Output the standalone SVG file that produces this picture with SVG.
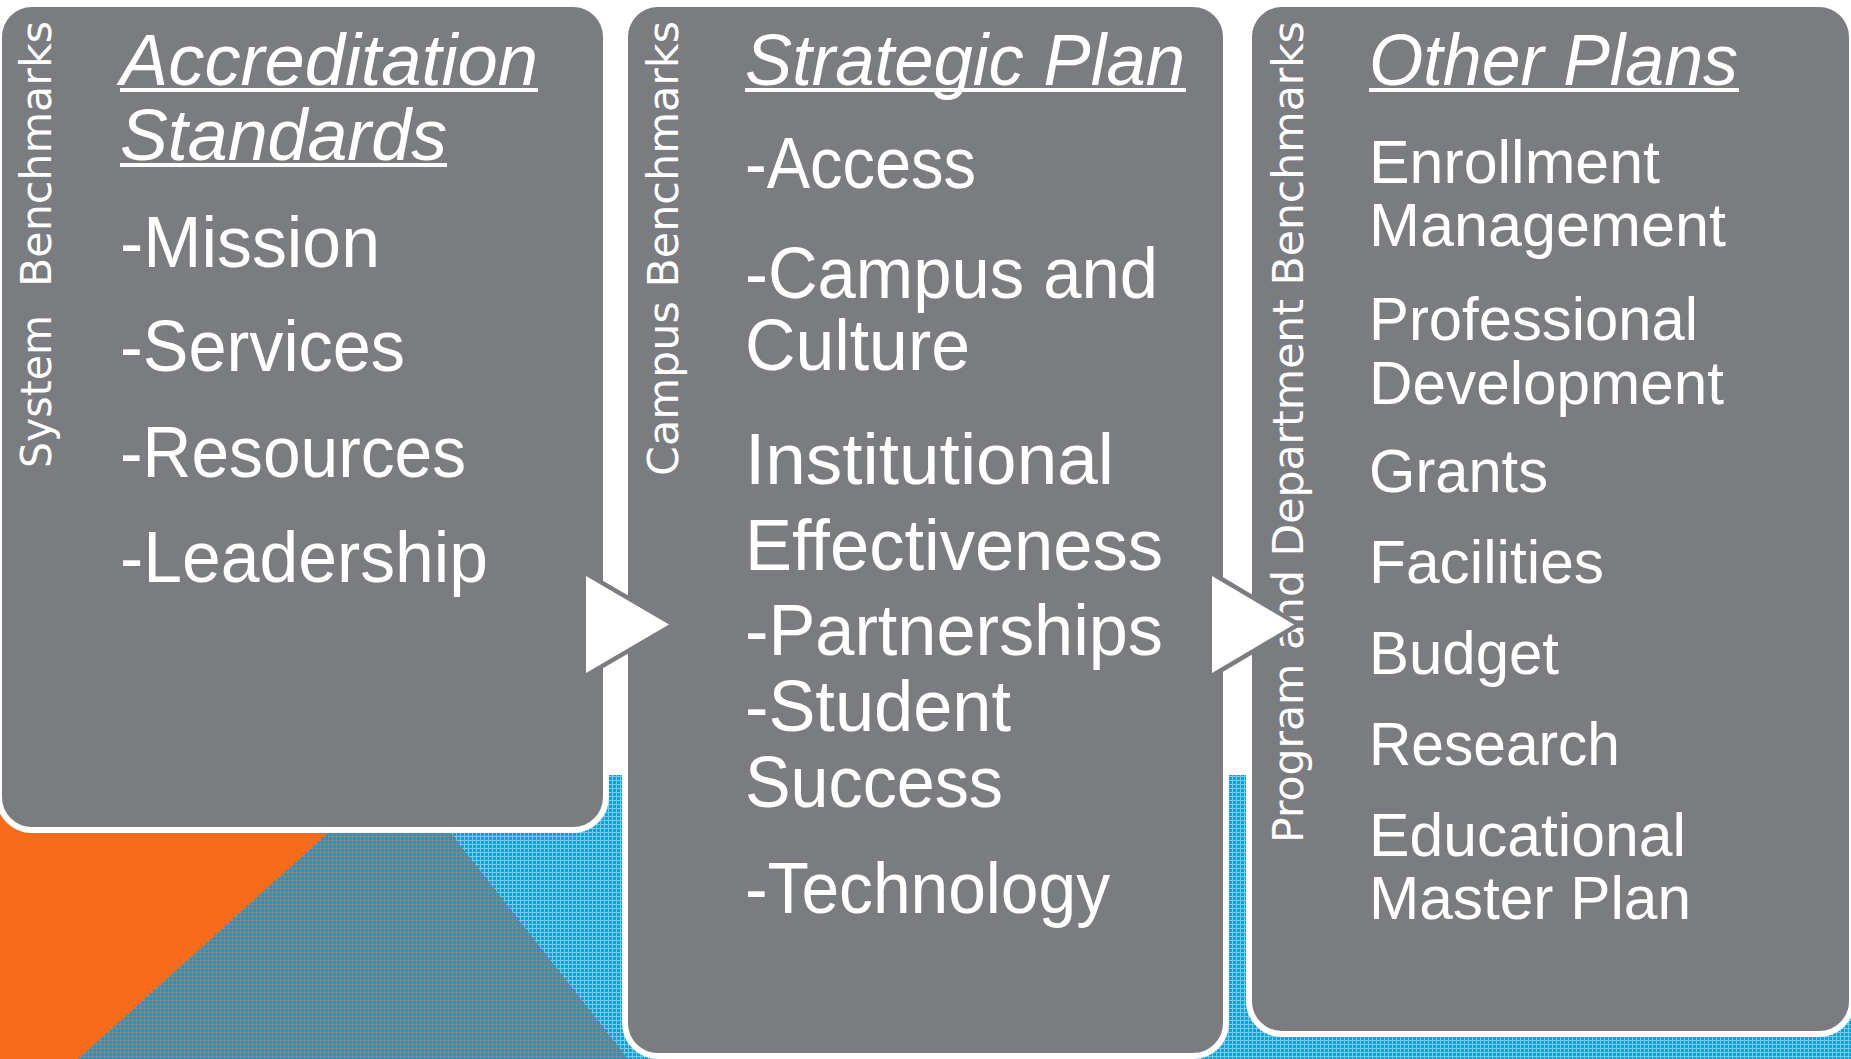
<svg xmlns="http://www.w3.org/2000/svg" width="1851" height="1059" viewBox="0 0 1851 1059">
<defs>
<pattern id="pLight" width="4" height="4" patternUnits="userSpaceOnUse"><rect width="4" height="4" fill="#12a0dc"/><path d="M0 0.5H4M0.5 0V4" stroke="#74ccef" stroke-width="1"/></pattern>
<pattern id="pDark" width="4" height="4" patternUnits="userSpaceOnUse"><rect width="4" height="4" fill="#1799cf"/><path d="M0 0.5H4M0.5 0V4" stroke="#808891" stroke-width="1"/></pattern>
</defs>
<style>
.box{fill:#7b7c80;stroke:#ffffff;stroke-width:6}
.t{font-family:"Liberation Sans Narrow","Liberation Sans",Arial,sans-serif;fill:#ffffff;font-size:72px}
.s{font-size:62px}
.h{font-style:italic}
.v{font-family:"DejaVu Sans","Verdana",sans-serif;fill:#ffffff;font-size:42.5px}
.ul{stroke:#ffffff;stroke-width:4}
.arrow{fill:#ffffff;stroke:#7b7c80;stroke-width:9;stroke-linejoin:miter;paint-order:stroke}
</style>
<rect width="1851" height="1059" fill="#ffffff"/>
<g id="background">
<rect x="0" y="775" width="1851" height="284" fill="url(#pLight)"/>
<polygon points="392,775 405,775 628,1059 78,1059" fill="url(#pDark)"/>
<polygon points="0,775 392,775 78,1059 0,1059" fill="#f76b1c"/>
</g>
<g id="node-accreditation">
<rect class="box" x="-1" y="4" width="607" height="826" rx="33"/>
<text class="v" transform="translate(51,468) rotate(-90)"><tspan x="0" y="0" textLength="153" lengthAdjust="spacingAndGlyphs">System</tspan></text>
<text class="v" transform="translate(51,287) rotate(-90)" textLength="266" lengthAdjust="spacingAndGlyphs">Benchmarks</text>
<text class="t h" x="120" y="85" textLength="418" lengthAdjust="spacingAndGlyphs">Accreditation</text>
<line class="ul" x1="120" y1="90" x2="538" y2="90"/>
<text class="t h" x="120" y="160" textLength="327" lengthAdjust="spacingAndGlyphs">Standards</text>
<line class="ul" x1="120" y1="165" x2="447" y2="165"/>
<text class="t" x="120" y="267" textLength="260" lengthAdjust="spacingAndGlyphs">-Mission</text>
<text class="t" x="120" y="371" textLength="285" lengthAdjust="spacingAndGlyphs">-Services</text>
<text class="t" x="120" y="477" textLength="346" lengthAdjust="spacingAndGlyphs">-Resources</text>
<text class="t" x="120" y="582" textLength="368" lengthAdjust="spacingAndGlyphs">-Leadership</text>
</g>
<g id="node-strategic">
<rect class="box" x="625" y="4" width="601" height="1052" rx="33"/>
<text class="v" transform="translate(678,476) rotate(-90)" textLength="455" lengthAdjust="spacingAndGlyphs">Campus Benchmarks</text>
<text class="t h" x="745" y="85" textLength="440" lengthAdjust="spacingAndGlyphs">Strategic Plan</text>
<line class="ul" x1="745" y1="90" x2="1186" y2="90"/>
<text class="t" x="745" y="188" textLength="231" lengthAdjust="spacingAndGlyphs">-Access</text>
<text class="t" x="745" y="298" textLength="413" lengthAdjust="spacingAndGlyphs">-Campus and</text>
<text class="t" x="745" y="370" textLength="225" lengthAdjust="spacingAndGlyphs">Culture</text>
<text class="t" x="745" y="484" textLength="369" lengthAdjust="spacingAndGlyphs">Institutional</text>
<text class="t" x="745" y="570" textLength="418" lengthAdjust="spacingAndGlyphs">Effectiveness</text>
<text class="t" x="745" y="655" textLength="418" lengthAdjust="spacingAndGlyphs">-Partnerships</text>
<text class="t" x="745" y="731" textLength="266" lengthAdjust="spacingAndGlyphs">-Student</text>
<text class="t" x="745" y="807" textLength="258" lengthAdjust="spacingAndGlyphs">Success</text>
<text class="t" x="745" y="913" textLength="365" lengthAdjust="spacingAndGlyphs">-Technology</text>
</g>
<g id="node-other">
<rect class="box" x="1249" y="4" width="603" height="1030" rx="33"/>
<text class="v" transform="translate(1303,843) rotate(-90)" textLength="822" lengthAdjust="spacingAndGlyphs">Program and Department Benchmarks</text>
<text class="t h" x="1369" y="85" textLength="369" lengthAdjust="spacingAndGlyphs">Other Plans</text>
<line class="ul" x1="1369" y1="90" x2="1739" y2="90"/>
<text class="t s" x="1369" y="183" textLength="291" lengthAdjust="spacingAndGlyphs">Enrollment</text>
<text class="t s" x="1369" y="246" textLength="357" lengthAdjust="spacingAndGlyphs">Management</text>
<text class="t s" x="1369" y="340" textLength="329" lengthAdjust="spacingAndGlyphs">Professional</text>
<text class="t s" x="1369" y="404" textLength="355" lengthAdjust="spacingAndGlyphs">Development</text>
<text class="t s" x="1369" y="492" textLength="179" lengthAdjust="spacingAndGlyphs">Grants</text>
<text class="t s" x="1369" y="583" textLength="235" lengthAdjust="spacingAndGlyphs">Facilities</text>
<text class="t s" x="1369" y="674" textLength="190" lengthAdjust="spacingAndGlyphs">Budget</text>
<text class="t s" x="1369" y="765" textLength="251" lengthAdjust="spacingAndGlyphs">Research</text>
<text class="t s" x="1369" y="856" textLength="317" lengthAdjust="spacingAndGlyphs">Educational</text>
<text class="t s" x="1369" y="919" textLength="322" lengthAdjust="spacingAndGlyphs">Master Plan</text>
</g>
<g id="connectors">
<polygon class="arrow" points="586,576 586,673 669,624.5"/>
<polygon class="arrow" points="1212,576 1212,673 1294,624.5"/>
</g>
</svg>
